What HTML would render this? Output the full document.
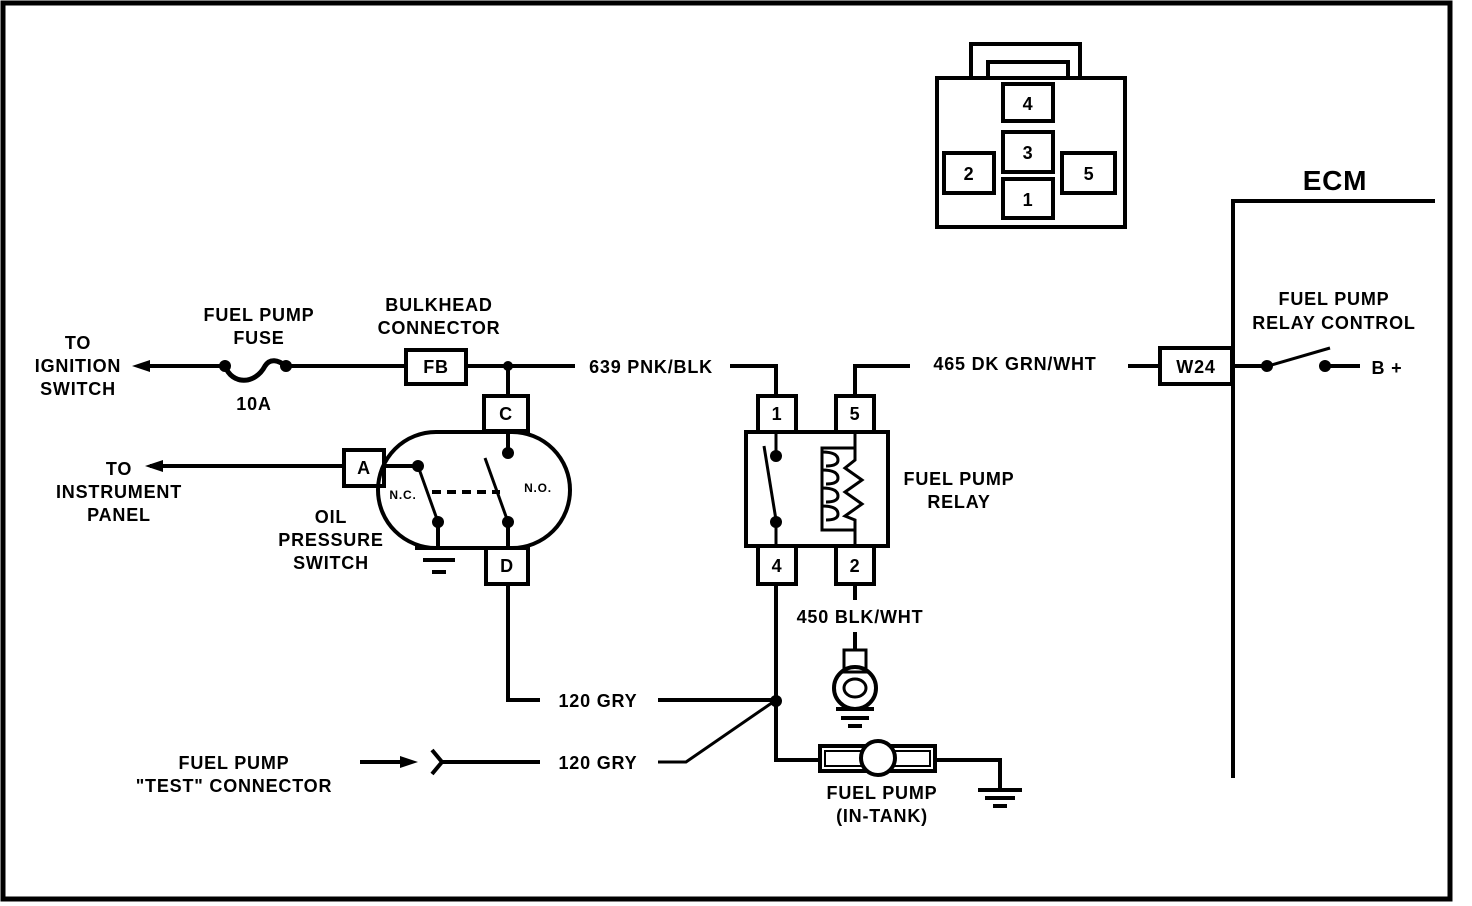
<!DOCTYPE html>
<html><head><meta charset="utf-8"><style>
html,body{margin:0;padding:0;background:#fff;}
svg{display:block;}
text{font-family:"Liberation Sans",sans-serif;font-weight:bold;font-size:18px;letter-spacing:0.8px;fill:#000;}
</style></head><body>
<svg width="1472" height="906" viewBox="0 0 1472 906" xmlns="http://www.w3.org/2000/svg">
<g fill="none" stroke="#000" stroke-width="4">
<rect x="3" y="3" width="1447" height="896" stroke-width="5"/>
<!-- top connector -->
<rect x="937" y="78" width="188" height="149"/>
<path d="M971 78 V44 H1080 V78"/>
<path d="M988 78 V62 H1068 V78"/>
<rect x="1003" y="84" width="50" height="37"/>
<rect x="1003" y="132" width="50" height="40"/>
<rect x="1003" y="179" width="50" height="39"/>
<rect x="944" y="153" width="50" height="40"/>
<rect x="1062" y="153" width="53" height="40"/>
<!-- ECM -->
<path d="M1233 778 V201 H1435"/>
<!-- fuse line -->
<path d="M145 366 H222"/>
<path d="M225 366 C232 385 255 385 265 366 C270 358 278 360 286 366" stroke-width="5"/>
<path d="M286 366 H406"/>
<rect x="406" y="350" width="60" height="34"/>
<path d="M466 366 H575"/>
<path d="M730 366 H776 V396"/>
<path d="M508 366 V396"/>
<rect x="484" y="396" width="44" height="35"/>
<!-- oil switch -->
<rect x="378" y="432" width="192" height="116" rx="58"/>
<rect x="344" y="450" width="40" height="36"/>
<path d="M150 466 H344"/>
<path d="M384 466 H418"/>
<path d="M418 466 L438 522" stroke-width="3"/>
<path d="M485 458 L508 522" stroke-width="3"/>
<path d="M432 492 H500" stroke-dasharray="9,6"/>
<path d="M508 431 V452"/>
<path d="M438 522 V548 M415 548 H462 M423 560 H455 M432 572 H446"/>
<rect x="486" y="548" width="42" height="36"/>
<path d="M508 522 V548"/>
<path d="M508 584 V700 H540"/>
<path d="M658 700 H776"/>
<!-- test connector -->
<path d="M360 762 H405"/>
<path d="M432 750 L442 762 L432 774"/>
<path d="M442 762 H540"/>
<path d="M658 762 H686 L776 700" stroke-width="3"/>
<!-- relay -->
<rect x="746" y="432" width="142" height="114"/>
<rect x="758" y="396" width="38" height="36"/>
<rect x="836" y="396" width="38" height="36"/>
<rect x="758" y="546" width="38" height="38"/>
<rect x="836" y="546" width="38" height="38"/>
<path d="M855 396 V366 H910"/>
<path d="M776 432 V455 M764 446 L776 520 M776 520 V546" stroke-width="3"/>
<path d="M855 432 V448 H822 V530 H855 V546" stroke-width="3"/>
<path d="M822 452 q16 0 16 8 q0 6 -12 6 M822 470 q16 0 16 8 q0 6 -12 6 M822 488 q16 0 16 8 q0 6 -12 6 M822 506 q16 0 16 8 q0 6 -12 6" stroke-width="3"/>
<path d="M855 448 V460 L845 468 L862 480 L845 492 L862 504 L845 516 L855 520 V530" stroke-width="3"/>
<path d="M776 584 V760 H820"/>
<path d="M855 584 V600 M855 632 V650"/>
<rect x="844" y="650" width="22" height="22" stroke-width="3"/>
<circle cx="855" cy="688" r="21"/>
<ellipse cx="855" cy="688" rx="11" ry="9" stroke-width="3"/>
<path d="M836 709 H874 M841 718 H869 M848 726 H862"/>
<!-- pump -->
<rect x="820" y="746" width="115" height="25"/>
<rect x="825" y="751" width="105" height="15" stroke-width="2"/>
<circle cx="878" cy="758" r="17" fill="#fff"/>
<path d="M935 760 H1000 V790 M978 790 H1022 M985 798 H1015 M993 806 H1007"/>
<!-- W24 -->
<path d="M1128 366 H1160"/>
<rect x="1160" y="348" width="72" height="36"/>
<path d="M1232 366 H1265 M1325 366 H1360"/>
<path d="M1268 366 L1330 348" stroke-width="3"/>
</g>
<g fill="#000">
<polygon points="132,366 150,360 150,372"/>
<polygon points="145,466 163,460 163,472"/>
<polygon points="418,762 400,756 400,768"/>
<circle cx="225" cy="366" r="6"/><circle cx="286" cy="366" r="6"/>
<circle cx="508" cy="366" r="5"/>
<circle cx="418" cy="466" r="6"/><circle cx="438" cy="522" r="6"/>
<circle cx="508" cy="453" r="6"/><circle cx="508" cy="522" r="6"/>
<circle cx="776" cy="456" r="6"/><circle cx="776" cy="522" r="6"/>
<circle cx="776" cy="701" r="6"/>
<circle cx="1267" cy="366" r="6"/><circle cx="1325" cy="366" r="6"/>
</g>
<g text-anchor="middle">
<text x="1028" y="110">4</text><text x="1028" y="159">3</text><text x="1028" y="206">1</text>
<text x="969" y="180">2</text><text x="1089" y="180">5</text>
<text x="1335" y="190" style="font-size:28px">ECM</text>
<text x="78" y="349">TO</text><text x="78" y="372">IGNITION</text><text x="78" y="395">SWITCH</text>
<text x="259" y="321">FUEL PUMP</text><text x="259" y="344">FUSE</text><text x="254" y="410">10A</text>
<text x="439" y="311">BULKHEAD</text><text x="439" y="334">CONNECTOR</text>
<text x="436" y="373">FB</text>
<text x="506" y="420">C</text><text x="364" y="474">A</text><text x="507" y="572">D</text>
<text x="403" y="499" style="font-size:12px">N.C.</text><text x="538" y="492" style="font-size:12px">N.O.</text>
<text x="119" y="475">TO</text><text x="119" y="498">INSTRUMENT</text><text x="119" y="521">PANEL</text>
<text x="331" y="523">OIL</text><text x="331" y="546">PRESSURE</text><text x="331" y="569">SWITCH</text>
<text x="651" y="373">639 PNK/BLK</text>
<text x="777" y="420">1</text><text x="855" y="420">5</text><text x="777" y="572">4</text><text x="855" y="572">2</text>
<text x="959" y="485">FUEL PUMP</text><text x="959" y="508">RELAY</text>
<text x="860" y="623">450 BLK/WHT</text>
<text x="1015" y="370">465 DK GRN/WHT</text>
<text x="1196" y="373">W24</text>
<text x="1334" y="305">FUEL PUMP</text><text x="1334" y="329">RELAY CONTROL</text>
<text x="1387" y="374">B +</text>
<text x="598" y="707">120 GRY</text><text x="598" y="769">120 GRY</text>
<text x="234" y="769">FUEL PUMP</text><text x="234" y="792">"TEST" CONNECTOR</text>
<text x="882" y="799">FUEL PUMP</text><text x="882" y="822">(IN-TANK)</text>
</g>
</svg>
</body></html>
